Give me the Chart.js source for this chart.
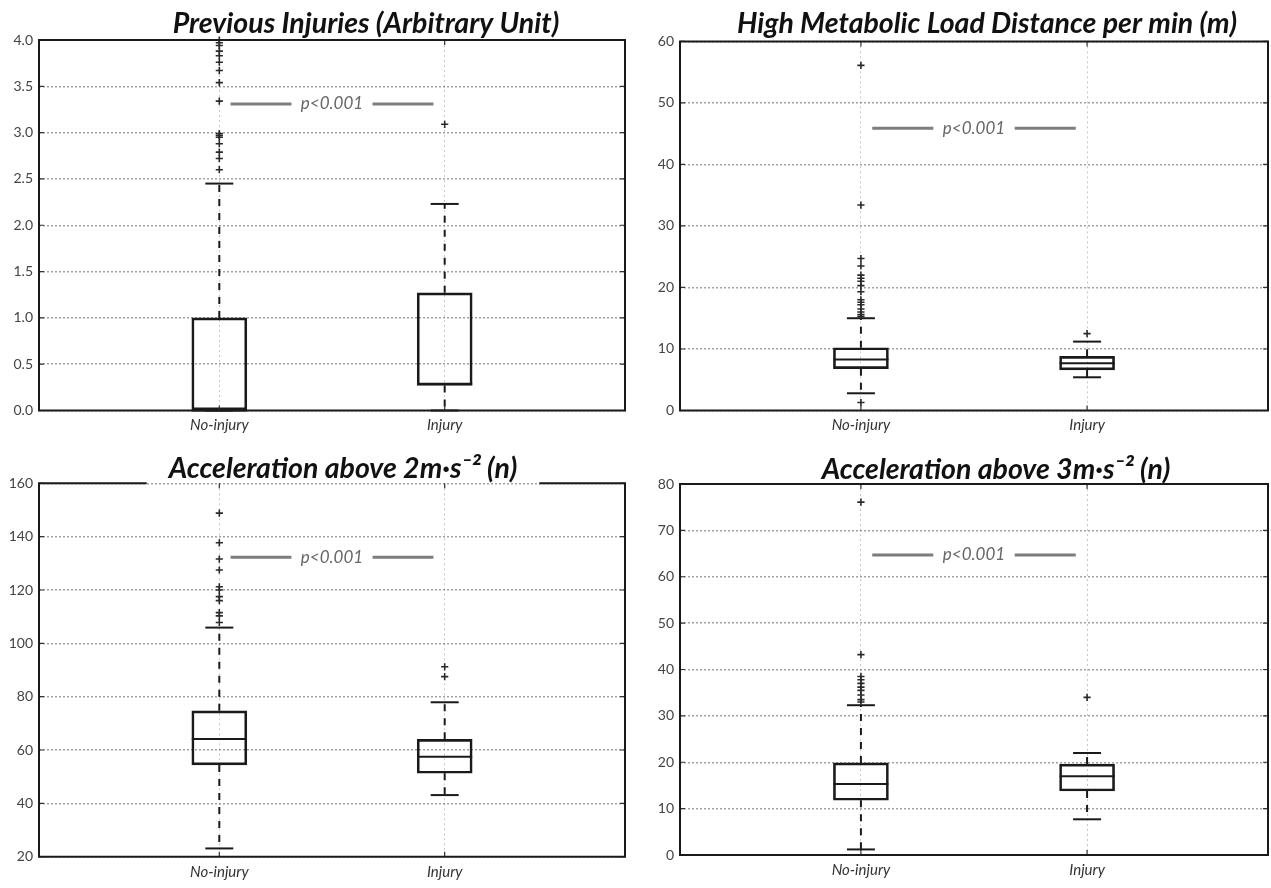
<!DOCTYPE html>
<html>
<head>
<meta charset="utf-8">
<script src="https://cdn.jsdelivr.net/npm/chart.js@4.4.1/dist/chart.umd.min.js"></script>
<style>
  html, body { margin: 0; padding: 0; background: #fff; width: 1271px; height: 888px; overflow: hidden; position: relative; }
  .panel { position: absolute; }
  .panel canvas { display: block; }
</style>
</head>
<body>
<div class="panel" style="left:0px;top:0px;width:729px;height:440px"><canvas id="c1"></canvas></div>
<div class="panel" style="left:640px;top:0px;width:690px;height:440px"><canvas id="c2"></canvas></div>
<div class="panel" style="left:0px;top:440px;width:683px;height:448px"><canvas id="c3"></canvas></div>
<div class="panel" style="left:640px;top:440px;width:708px;height:448px"><canvas id="c4"></canvas></div>
<script>
// ---------------- DATA ----------------
const categories = ['No-injury', 'Injury'];
const pValueLabel = 'p<0.001';

// Panel 1 – Previous Injuries
const p1Title = 'Previous Injuries (Arbitrary Unit)';
const p1YTicks = [0, 0.5, 1, 1.5, 2, 2.5, 3, 3.5, 4];
const p1YTickLabels = ['0.0', '0.5', '1.0', '1.5', '2.0', '2.5', '3.0', '3.5', '4.0'];
const p1Q1 = [0, 0.27];
const p1Median = [0, 0.29];
const p1Q3 = [1.0, 1.27];
const p1WhiskerLow = [0, 0];
const p1WhiskerHigh = [2.45, 2.23];
const p1OutliersNoInjury = [2.60, 2.72, 2.79, 2.88, 2.95, 2.97, 2.99, 3.34, 3.54, 3.67, 3.76, 3.83, 3.88, 3.94, 3.97, 4.0];
const p1OutliersInjury = [3.09];
const p1PValueY = 3.31;

// Panel 2 – High Metabolic Load Distance per min
const p2Title = 'High Metabolic Load Distance per min (m)';
const p2YTicks = [0, 10, 20, 30, 40, 50, 60];
const p2YTickLabels = ['0', '10', '20', '30', '40', '50', '60'];
const p2Q1 = [6.8, 6.6];
const p2Median = [8.3, 7.7];
const p2Q3 = [10.2, 8.8];
const p2WhiskerLow = [2.8, 5.4];
const p2WhiskerHigh = [15.0, 11.2];
const p2OutliersNoInjury = [1.3, 15.3, 15.6, 16.0, 16.5, 17.2, 17.6, 18.0, 19.3, 20.3, 21.0, 21.5, 22.0, 23.5, 24.7, 33.4, 56.1];
const p2OutliersInjury = [12.5];
const p2PValueY = 45.9;

// Panel 3 – Acceleration above 2 m·s-2
const p3Title = 'Acceleration above 2m\u00B7s\u207B\u00B2 (n)';
const p3YTicks = [20, 40, 60, 80, 100, 120, 140, 160];
const p3YTickLabels = ['20', '40', '60', '80', '100', '120', '140', '160'];
const p3Q1 = [54.4, 51.3];
const p3Median = [64.1, 57.5];
const p3Q3 = [74.7, 64.0];
const p3WhiskerLow = [23.1, 43.1];
const p3WhiskerHigh = [105.9, 77.9];
const p3OutliersNoInjury = [107.8, 110.3, 111.5, 116.0, 117.5, 120.0, 121.2, 127.5, 131.6, 137.7, 148.8];
const p3OutliersInjury = [87.5, 91.2];
const p3PValueY = 132.3;

// Panel 4 – Acceleration above 3 m·s-2
const p4Title = 'Acceleration above 3m\u00B7s\u207B\u00B2 (n)';
const p4YTicks = [0, 10, 20, 30, 40, 50, 60, 70, 80];
const p4YTickLabels = ['0', '10', '20', '30', '40', '50', '60', '70', '80'];
const p4Q1 = [11.8, 13.8];
const p4Median = [15.3, 17.0];
const p4Q3 = [19.85, 19.6];
const p4WhiskerLow = [1.2, 7.7];
const p4WhiskerHigh = [32.3, 22.0];
const p4OutliersNoInjury = [33.0, 33.5, 34.5, 35.5, 36.2, 37.0, 37.8, 38.5, 43.2, 76.1];
const p4OutliersInjury = [34.0];
const p4PValueY = 64.7;

// p-value bracket segments (x in category units)
const pLineLeft = [1.05, 1.32];
const pLineRight = [1.68, 1.95];

// ---------------- STYLE / LAYOUT ----------------
const FONT = 'Lato, "Open Sans", sans-serif';
const TITLE_SIZE = 28.5;
const INK = '#1a1a1a';

const framePlugin = {
  id: 'frame',
  afterDatasetsDraw(chart, args, opts) {
    const {ctx, chartArea: a, scales} = chart;
    ctx.save();
    // inner tick marks (matplotlib style)
    ctx.strokeStyle = '#333';
    ctx.lineWidth = 1.2;
    ctx.beginPath();
    scales.y.ticks.forEach(t => {
      const y = scales.y.getPixelForValue(t.value);
      ctx.moveTo(a.left, y); ctx.lineTo(a.left + 5, y);
      ctx.moveTo(a.right, y); ctx.lineTo(a.right - 5, y);
    });
    scales.x.ticks.forEach(t => {
      const x = scales.x.getPixelForValue(t.value);
      ctx.moveTo(x, a.bottom); ctx.lineTo(x, a.bottom - 5);
      ctx.moveTo(x, a.top); ctx.lineTo(x, a.top + 5);
    });
    ctx.stroke();
    // frame
    ctx.strokeStyle = INK;
    ctx.lineWidth = 2;
    ctx.beginPath();
    if (opts.titleGap) {
      const tb = chart.titleBlock;
      ctx.font = 'italic bold ' + TITLE_SIZE + 'px ' + FONT;
      const w = ctx.measureText(chart.options.plugins.title.text).width;
      const cx = (tb.left + tb.right) / 2;
      ctx.moveTo(cx - w / 2 - opts.titleGap, a.top);
      ctx.lineTo(a.left, a.top);
      ctx.lineTo(a.left, a.bottom);
      ctx.lineTo(a.right, a.bottom);
      ctx.lineTo(a.right, a.top);
      ctx.lineTo(cx + w / 2 + opts.titleGap, a.top);
    } else {
      ctx.rect(a.left, a.top, a.right - a.left, a.bottom - a.top);
    }
    ctx.stroke();
    // p-value label
    ctx.fillStyle = '#666';
    ctx.font = 'italic 17px ' + FONT;
    ctx.textAlign = 'center';
    ctx.textBaseline = 'middle';
    ctx.fillText(pValueLabel, scales.x.getPixelForValue(1.5), scales.y.getPixelForValue(opts.pY));
    ctx.restore();
  }
};

function makeChart(id, p) {
  const xs = categories.map((c, i) => i + 1);
  const whiskers = [];
  xs.forEach((x, i) => {
    whiskers.push({x, y: p.q3[i]}, {x, y: p.hi[i]}, {x, y: null},
                  {x, y: p.q1[i]}, {x, y: p.lo[i]}, {x, y: null});
  });
  const caps = [];
  xs.forEach((x, i) => { caps.push({x, y: p.hi[i]}, {x, y: p.lo[i]}); });
  const medians = xs.map((x, i) => ({x, y: p.med[i]}));
  const outliers = p.outNo.map(v => ({x: 1, y: v})).concat(p.outIn.map(v => ({x: 2, y: v})));
  const pLines = [{x: pLineLeft[0], y: p.pY}, {x: pLineLeft[1], y: p.pY}, {x: 1.5, y: null},
                  {x: pLineRight[0], y: p.pY}, {x: pLineRight[1], y: p.pY}];

  return new Chart(document.getElementById(id), {
    type: 'bar',
    data: {
      datasets: [
        {type: 'scatter', data: outliers, pointStyle: 'cross', pointRadius: 3.6, pointBorderWidth: 1.6,
         pointBorderColor: '#2a2a2a', order: 0, clip: false},
        {type: 'scatter', data: medians, pointStyle: 'line', pointRadius: 27.5, pointBorderWidth: 2,
         pointBorderColor: INK, order: 1, clip: false},
        {type: 'scatter', data: caps, pointStyle: 'line', pointRadius: 14, pointBorderWidth: 2,
         pointBorderColor: INK, order: 1, clip: false},
        {type: 'line', data: whiskers, borderColor: INK, borderWidth: 2, borderDash: [7, 7],
         pointRadius: 0, spanGaps: false, order: 3, clip: false},
        {type: 'line', data: pLines, borderColor: '#7d7d7d', borderWidth: 3,
         pointRadius: 0, spanGaps: false, order: 2},
        {type: 'bar', data: xs.map((x, i) => ({x, y: [p.q1[i], p.q3[i]]})),
         backgroundColor: 'rgba(0,0,0,0)', borderColor: INK, borderWidth: 2, borderSkipped: false,
         barThickness: 55, order: 4}
      ]
    },
    options: {
      responsive: true,
      maintainAspectRatio: false,
      devicePixelRatio: 1,
      animation: false,
      events: [],
      layout: {padding: p.pad},
      plugins: {
        legend: {display: false},
        tooltip: {enabled: false},
        title: {
          display: true, text: p.title, color: '#111',
          font: {family: FONT, size: TITLE_SIZE, weight: 'bold', style: 'italic', lineHeight: 1},
          padding: p.titlePad
        },
        frame: {pY: p.pY, titleGap: p.titleGap || 0}
      },
      scales: {
        x: {
          type: 'linear', min: 0.2, max: 2.8, offset: false,
          afterBuildTicks: s => { s.ticks = xs.map(v => ({value: v})); },
          afterFit: s => { s.height = 24; },
          ticks: {callback: (v, i) => categories[i], color: '#333', padding: 6,
                  font: {family: FONT, size: 15, style: 'italic'}},
          grid: {color: 'rgba(0,0,0,0.22)', lineWidth: 1, drawTicks: false, offset: false},
          border: {display: false, dash: [2, 3]}
        },
        y: {
          type: 'linear', min: p.yTicks[0], max: p.yTicks[p.yTicks.length - 1],
          afterBuildTicks: s => { s.ticks = p.yTicks.map(v => ({value: v})); },
          afterFit: s => { s.width = 36; },
          ticks: {callback: (v, i) => p.yLabels[i], color: '#444', padding: 6,
                  font: {family: FONT, size: 14}},
          grid: {color: 'rgba(0,0,0,0.36)', lineWidth: 1.5, drawTicks: false},
          border: {display: false, dash: [2, 2]}
        },
        // empty spacer on the right so the title can sit off-centre like the original
        spacer: {
          type: 'linear', position: 'right', display: true,
          afterFit: s => { s.width = p.rightSpace; },
          ticks: {display: false}, grid: {display: false}, border: {display: false}
        }
      }
    },
    plugins: [framePlugin]
  });
}

makeChart('c1', {title: p1Title, yTicks: p1YTicks, yLabels: p1YTickLabels,
  q1: p1Q1, med: p1Median, q3: p1Q3, lo: p1WhiskerLow, hi: p1WhiskerHigh,
  outNo: p1OutliersNoInjury, outIn: p1OutliersInjury, pY: p1PValueY,
  pad: {left: 3, right: 0, top: 0, bottom: 5}, rightSpace: 104,
  titlePad: {top: 9.5, bottom: 2}});

makeChart('c2', {title: p2Title, yTicks: p2YTicks, yLabels: p2YTickLabels,
  q1: p2Q1, med: p2Median, q3: p2Q3, lo: p2WhiskerLow, hi: p2WhiskerHigh,
  outNo: p2OutliersNoInjury, outIn: p2OutliersInjury, pY: p2PValueY,
  pad: {left: 4, right: 0, top: 0, bottom: 3}, rightSpace: 62,
  titlePad: {top: 10, bottom: 2.9}});

makeChart('c3', {title: p3Title, yTicks: p3YTicks, yLabels: p3YTickLabels,
  q1: p3Q1, med: p3Median, q3: p3Q3, lo: p3WhiskerLow, hi: p3WhiskerHigh,
  outNo: p3OutliersNoInjury, outIn: p3OutliersInjury, pY: p3PValueY,
  pad: {left: 3, right: 0, top: 0, bottom: 7.3}, rightSpace: 58,
  titlePad: {top: 14.8, bottom: 0}, titleGap: 22});

makeChart('c4', {title: p4Title, yTicks: p4YTicks, yLabels: p4YTickLabels,
  q1: p4Q1, med: p4Median, q3: p4Q3, lo: p4WhiskerLow, hi: p4WhiskerHigh,
  outNo: p4OutliersNoInjury, outIn: p4OutliersInjury, pY: p4PValueY,
  pad: {left: 4, right: 0, top: 0, bottom: 9}, rightSpace: 80,
  titlePad: {top: 15.2, bottom: 0.3}});
</script>
</body>
</html>
